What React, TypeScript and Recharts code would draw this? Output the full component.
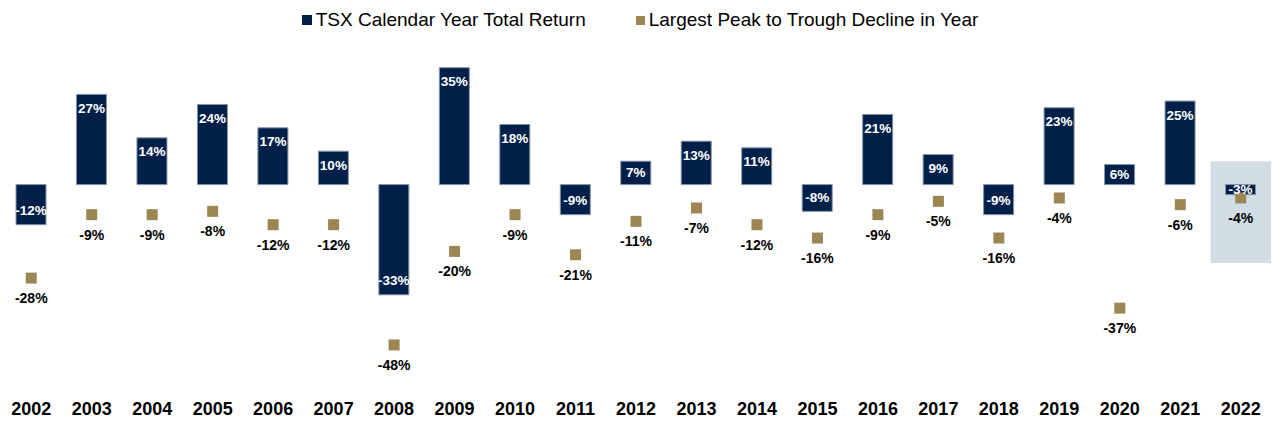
import React from 'react';
import {
  ComposedChart,
  Bar,
  Scatter,
  XAxis,
  YAxis,
  LabelList,
  ReferenceArea,
} from 'recharts';

const years = [
  '2002', '2003', '2004', '2005', '2006', '2007', '2008', '2009', '2010', '2011', '2012',
  '2013', '2014', '2015', '2016', '2017', '2018', '2019', '2020', '2021', '2022',
];

// TSX calendar year total return (%)
const totalReturn = [-12, 27, 14, 24, 17, 10, -33, 35, 18, -9, 7, 13, 11, -8, 21, 9, -9, 23, 6, 25, -3];

// largest peak to trough decline within the year (%)
const peakToTrough = [-28, -9, -9, -8, -12, -12, -48, -20, -9, -21, -11, -7, -12, -16, -9, -5, -16, -4, -37, -6, -4];

const colors = {
  navy: '#00204a',
  tan: '#9c8654',
  highlight: '#d1dee6',
};

const FONT = 'Arial, "Liberation Sans", Helvetica, sans-serif';

const chartData = years.map((year, i) => ({
  year,
  ret: totalReturn[i],
  decline: peakToTrough[i],
}));

const BarValueLabel = (props: any) => {
  const { x, y, width, height, value } = props;
  const top = Math.min(y, y + height);
  const bottom = Math.max(y, y + height);
  const h = bottom - top;
  const offset = Math.min(14, h / 2);
  const cy = value >= 0 ? top + offset : bottom - offset;
  return (
    <text
      x={x + width / 2}
      y={cy}
      textAnchor="middle"
      dominantBaseline="central"
      fill="#ffffff"
      fontSize={13.5}
      fontWeight="bold"
      fontFamily={FONT}
    >
      {`${value}%`}
    </text>
  );
};

const SquareMarker = (props: any) => {
  const { cx, cy, payload } = props;
  return (
    <g>
      <rect x={cx - 5.5} y={cy - 5.5} width={11} height={11} fill={colors.tan} />
      <text
        x={cx}
        y={cy + 20}
        textAnchor="middle"
        dominantBaseline="central"
        fill="#000000"
        fontSize={14}
        fontWeight="bold"
        fontFamily={FONT}
      >
        {`${payload.decline}%`}
      </text>
    </g>
  );
};

const App: React.FC = () => {
  return (
    <div style={{ position: 'absolute', left: 0, top: 0, width: 1280, height: 424, background: '#fff', fontFamily: FONT }}>
      {/* legend on top */}
      <div
        style={{
          position: 'absolute',
          top: 8,
          left: 0,
          width: 1280,
          display: 'flex',
          justifyContent: 'center',
          gap: 50,
          fontSize: 19,
          lineHeight: '24px',
          color: '#000',
        }}
      >
        <div style={{ display: 'flex', alignItems: 'center' }}>
          <span style={{ width: 10, height: 10, backgroundColor: colors.navy, marginRight: 4 }} />
          TSX Calendar Year Total Return
        </div>
        <div style={{ display: 'flex', alignItems: 'center' }}>
          <span style={{ width: 9, height: 9, backgroundColor: colors.tan, marginRight: 4 }} />
          Largest Peak to Trough Decline in Year
        </div>
      </div>

      <ComposedChart
        width={1280}
        height={424}
        data={chartData}
        margin={{ top: 51, right: 9, bottom: 0, left: 1 }}
      >
        <ReferenceArea x1="2022" x2="2022" y1={-23.5} y2={7} fill={colors.highlight} fillOpacity={1} stroke="none" />
        <XAxis
          dataKey="year"
          axisLine={false}
          tickLine={false}
          interval={0}
          height={39}
          tickMargin={11}
          tick={{ fontSize: 18, fontWeight: 'bold', fill: '#000', fontFamily: FONT }}
        />
        <YAxis hide domain={[-60, 40]} />
        <Bar dataKey="ret" fill={colors.navy} stroke="#8393aa" strokeWidth={1} barSize={30} isAnimationActive={false}>
          <LabelList dataKey="ret" content={BarValueLabel} />
        </Bar>
        <Scatter dataKey="decline" shape={SquareMarker} isAnimationActive={false} />
      </ComposedChart>
    </div>
  );
};

export default App;
